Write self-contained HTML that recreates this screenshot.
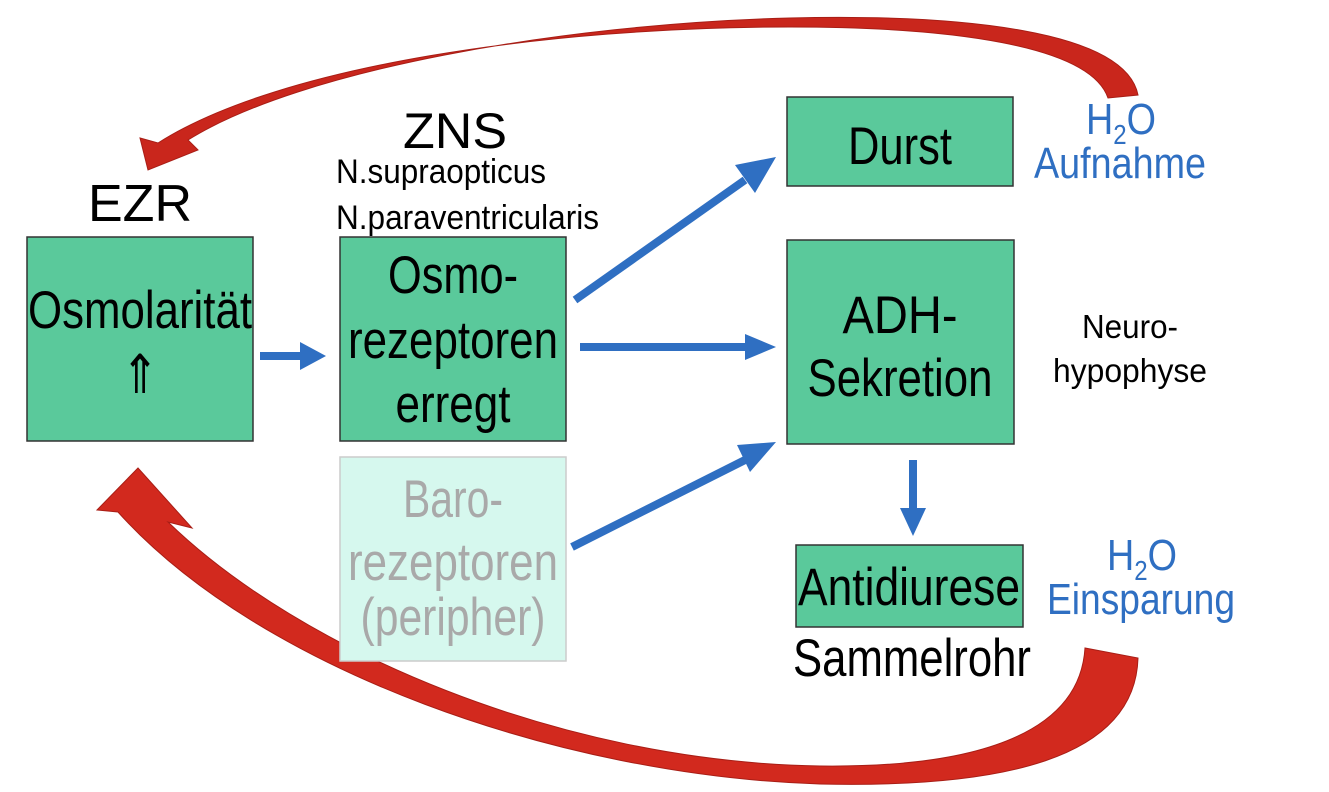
<!DOCTYPE html>
<html><head><meta charset="utf-8"><style>
html,body{margin:0;padding:0;background:#fff;width:1329px;height:792px;overflow:hidden}
svg{display:block}
text{font-family:"Liberation Sans",sans-serif}
</style></head><body>
<svg width="1329" height="792" viewBox="0 0 1329 792" xmlns="http://www.w3.org/2000/svg">
<path d="M1138,95 C1125,30 960,14 790,18 C560,24 300,70 188,140 L198,150 L148,170 L140,138 L158,143 C280,65 550,27 790,27 C950,27 1090,45 1108,98 Z" fill="#c9261c" stroke="#a81e16" stroke-width="1"/>
<path d="M1138,658 C1135,760 1000,788 820,784 C560,776 260,670 118,512 L97,510 L138,468 L192,528 L168,522 C300,650 560,762 820,766 C985,768 1080,730 1085,648 Z" fill="#d2291e" stroke="#a81e16" stroke-width="1"/>
<rect x="27" y="237" width="226" height="204" fill="#5ac99b" stroke="#333" stroke-width="1.5"/>
<rect x="340" y="237" width="226" height="204" fill="#5ac99b" stroke="#333" stroke-width="1.5"/>
<rect x="340" y="457" width="226" height="204" fill="#d6f8ee" stroke="#ccc" stroke-width="1.5"/>
<rect x="787" y="97" width="226" height="89" fill="#5ac99b" stroke="#333" stroke-width="1.5"/>
<rect x="787" y="240" width="227" height="204" fill="#5ac99b" stroke="#333" stroke-width="1.5"/>
<rect x="796" y="545" width="227" height="82" fill="#5ac99b" stroke="#333" stroke-width="1.5"/>
<g stroke="#2f6fc2" stroke-width="8" fill="none">
<line x1="260" y1="356" x2="300" y2="356"/>
<line x1="575" y1="300" x2="745" y2="180"/>
<line x1="580" y1="347" x2="745" y2="347"/>
<line x1="572" y1="547" x2="745" y2="460"/>
<line x1="913" y1="460" x2="913" y2="510"/>
</g>
<g fill="#2f6fc2">
<path d="M300,342 L326,356 L300,370 Z"/>
<path d="M735,165 L776,157 L755,193 Z"/>
<path d="M745,334 L776,347 L745,360 Z"/>
<path d="M737,445 L776,442 L750,472 Z"/>
<path d="M900,508 L913,536 L926,508 Z"/>
</g>
<text x="140" y="221" font-size="52" text-anchor="middle" textLength="104" lengthAdjust="spacingAndGlyphs">EZR</text>
<text x="455" y="148" font-size="50" text-anchor="middle" textLength="104" lengthAdjust="spacingAndGlyphs">ZNS</text>
<text x="336" y="183" font-size="34" textLength="210" lengthAdjust="spacingAndGlyphs">N.supraopticus</text>
<text x="336" y="229" font-size="34" textLength="263" lengthAdjust="spacingAndGlyphs">N.paraventricularis</text>
<text x="140" y="328" font-size="53" text-anchor="middle" textLength="224" lengthAdjust="spacingAndGlyphs">Osmolarität</text>
<text x="140" y="393" font-size="54" text-anchor="middle" textLength="38" lengthAdjust="spacingAndGlyphs">⇑</text>
<text x="453" y="293" font-size="53" text-anchor="middle" textLength="130" lengthAdjust="spacingAndGlyphs">Osmo-</text>
<text x="453" y="358" font-size="53" text-anchor="middle" textLength="210" lengthAdjust="spacingAndGlyphs">rezeptoren</text>
<text x="453" y="422" font-size="53" text-anchor="middle" textLength="115" lengthAdjust="spacingAndGlyphs">erregt</text>
<g fill="#a9a9a9">
<text x="453" y="517" font-size="53" text-anchor="middle" textLength="100" lengthAdjust="spacingAndGlyphs">Baro-</text>
<text x="453" y="580" font-size="53" text-anchor="middle" textLength="210" lengthAdjust="spacingAndGlyphs">rezeptoren</text>
<text x="453" y="635" font-size="53" text-anchor="middle" textLength="185" lengthAdjust="spacingAndGlyphs">(peripher)</text>
</g>
<text x="900" y="164" font-size="53" text-anchor="middle" textLength="104" lengthAdjust="spacingAndGlyphs">Durst</text>
<text x="900" y="333" font-size="53" text-anchor="middle" textLength="115" lengthAdjust="spacingAndGlyphs">ADH-</text>
<text x="900" y="396" font-size="53" text-anchor="middle" textLength="185" lengthAdjust="spacingAndGlyphs">Sekretion</text>
<text x="909" y="605" font-size="53" text-anchor="middle" textLength="222" lengthAdjust="spacingAndGlyphs">Antidiurese</text>
<text x="912" y="676" font-size="53" text-anchor="middle" textLength="238" lengthAdjust="spacingAndGlyphs">Sammelrohr</text>
<text x="1130" y="338" font-size="33" text-anchor="middle" textLength="96" lengthAdjust="spacingAndGlyphs">Neuro-</text>
<text x="1130" y="382" font-size="33" text-anchor="middle" textLength="154" lengthAdjust="spacingAndGlyphs">hypophyse</text>
<g fill="#2f6fc2">
<text x="1086" y="134" font-size="44" textLength="70" lengthAdjust="spacingAndGlyphs">H<tspan font-size="28" dy="10">2</tspan><tspan dy="-10">O</tspan></text>
<text x="1120" y="178" font-size="44" text-anchor="middle" textLength="172" lengthAdjust="spacingAndGlyphs">Aufnahme</text>
<text x="1107" y="570" font-size="44" textLength="70" lengthAdjust="spacingAndGlyphs">H<tspan font-size="28" dy="10">2</tspan><tspan dy="-10">O</tspan></text>
<text x="1141" y="614" font-size="44" text-anchor="middle" textLength="188" lengthAdjust="spacingAndGlyphs">Einsparung</text>
</g>
</svg>
</body></html>
